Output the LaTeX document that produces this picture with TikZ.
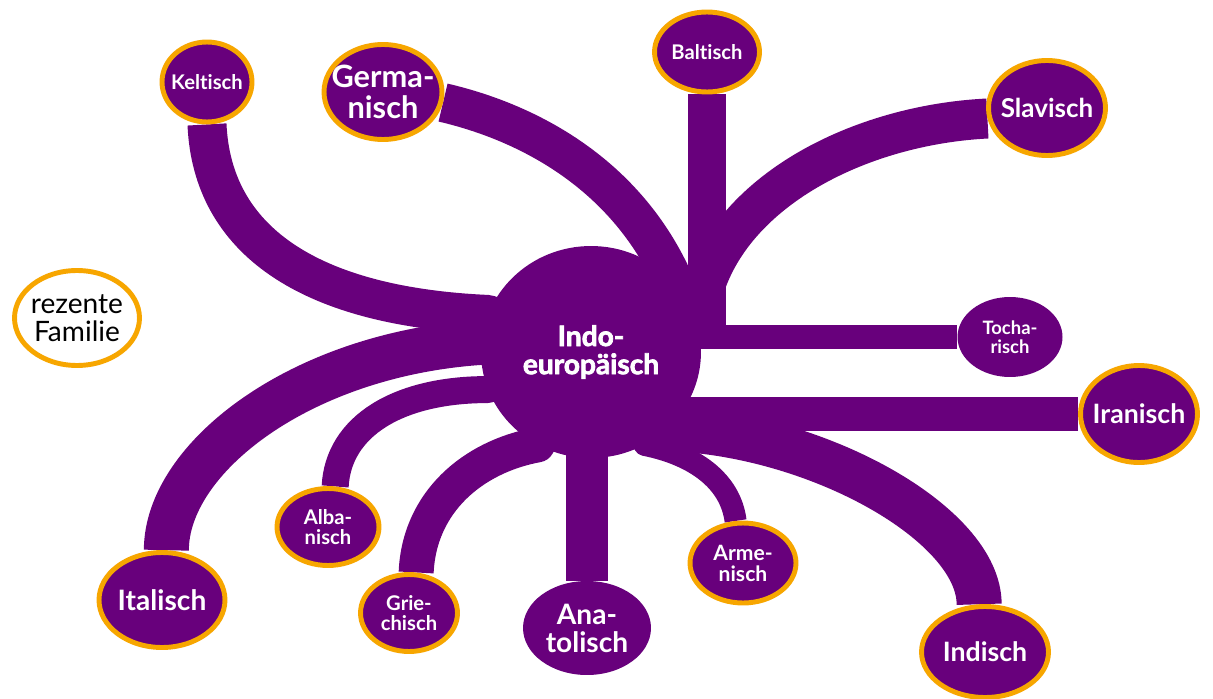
\documentclass[tikz,border=0pt]{standalone}
\usepackage{fontspec}
\setmainfont{Lato}[Ligatures={CommonOff}]
\newfontfamily\heavyfont{Lato}[Ligatures={CommonOff}, BoldFeatures={FakeBold=2.5}]
\usepackage{tikz}
\usetikzlibrary{shapes.geometric, backgrounds}
\definecolor{iepurple}{RGB}{104,0,124}
\definecolor{ieorange}{RGB}{247,166,0}

\begin{document}
\begin{tikzpicture}[
    x=0.02cm, y=-0.02cm,
    lang/.style={ellipse, draw=ieorange, line width=2.8pt, fill=iepurple, inner sep=0pt},
    extinct/.style={ellipse, fill=iepurple, inner sep=0pt},
    recent/.style={ellipse, draw=ieorange, line width=2.8pt, fill=white, inner sep=0pt},
    langtxt/.style={text=white, font=\bfseries\fontsize{#1}{#1}\selectfont, align=center, inner sep=0pt},
    branch/.style={draw=iepurple, line width=#1, line join=round}
]
\useasboundingbox (0,0) rectangle (1213,699);

% Root
\node[extinct, minimum width=4.4cm, minimum height=4.24cm] (ie) at (591,352) {};
\node[langtxt=16pt, font=\heavyfont\bfseries\fontsize{16pt}{16pt}\selectfont] (ie-t) at (ie) {Indo-\\europäisch};

% Daughter families (top, clockwise)
\node[lang, minimum width=1.80cm, minimum height=1.60cm] (kel) at (207,82) {};
\node[lang, minimum width=2.36cm, minimum height=1.90cm] (ger) at (383,92) {};
\node[lang, minimum width=2.10cm, minimum height=1.60cm] (bal) at (707,52) {};
\node[lang, minimum width=2.34cm, minimum height=1.90cm] (sla) at (1047,108) {};
\node[extinct, minimum width=2.10cm, minimum height=1.60cm] (toc) at (1010,337) {};
\node[lang, minimum width=2.34cm, minimum height=1.94cm] (ira) at (1139,414) {};
\node[lang, minimum width=2.54cm, minimum height=1.82cm] (ind) at (985,652) {};
\node[lang, minimum width=2.12cm, minimum height=1.60cm] (arm) at (743,563) {};
\node[extinct, minimum width=2.56cm, minimum height=1.88cm] (ana) at (587,628) {};
\node[lang, minimum width=1.94cm, minimum height=1.54cm] (gri) at (409,613) {};
\node[lang, minimum width=2.04cm, minimum height=1.54cm] (alb) at (328,527) {};
\node[lang, minimum width=2.52cm, minimum height=1.90cm] (ita) at (162,600) {};

% Legend
\node[recent, minimum width=2.50cm, minimum height=1.90cm] (rez) at (77,318) {};
\node[font=\fontsize{16pt}{16pt}\selectfont, align=center, inner sep=0pt] (rez-t) at (rez) {rezente\\Familie};

% Labels
\node[langtxt=11.5pt] (kel-t) at (kel) {Keltisch};
\node[langtxt=17.5pt] (ger-t) at (ger) {Germa-\\nisch};
\node[langtxt=11.5pt] (bal-t) at (bal) {Baltisch};
\node[langtxt=14.8pt] (sla-t) at (sla) {Slavisch};
\node[langtxt=10.5pt] (toc-t) at (toc) {Tocha-\\risch};
\node[langtxt=15.2pt] (ira-t) at (ira) {Iranisch};
\node[langtxt=15.2pt] (ind-t) at (ind) {Indisch};
\node[langtxt=12pt] (arm-t) at (arm) {Arme-\\nisch};
\node[langtxt=16pt] (ana-t) at (ana) {Ana-\\tolisch};
\node[langtxt=11.5pt] (gri-t) at (gri) {Grie-\\chisch};
\node[langtxt=11.5pt] (alb-t) at (alb) {Alba-\\nisch};
\node[langtxt=16pt] (ita-t) at (ita) {Italisch};

% Branches
\begin{scope}[on background layer]
\fill[white] (0,0) rectangle (1213,699);
\draw[branch=0.78cm] (kel.south) .. controls +(5,115) and +(-180,-8) .. (ie.160) -- (ie.center);
\draw[branch=0.78cm] (ger.-10) .. controls +(86,20) and +(-48,-108) .. (ie.40) -- (ie.center);
\draw[branch=0.76cm] (bal.south) -- (bal.south |- toc.west);
\draw[branch=0.80cm] (sla.190) .. controls +(-140,7) and +(10,-120) .. (ie.15) -- (ie.center);
\draw[branch=0.50cm] (toc.west) -- (toc.west -| ie.center);
\draw[branch=0.68cm] (ira.west) -- (ira.west -| ie.center);
\draw[branch=0.90cm] (ind.97) .. controls +(0,-80) and +(150,5) .. (ie.-45) -- (ie.center);
\draw[branch=0.44cm] (arm.100) .. controls +(-5,-40) and +(50,10) .. (ie.-60) -- (ie.center);
\draw[branch=0.84cm] (ana.north) -- (ana.north |- ie.center);
\draw[branch=0.70cm] (gri.80) .. controls +(3,-70) and +(-65,12) .. (ie.-120) -- (ie.center);
\draw[branch=0.54cm] (alb.80) .. controls +(3,-60) and +(-90,0) .. (ie.-160) -- (ie.center);
\draw[branch=0.90cm] (ita.85) .. controls +(0,-92) and +(-181,12) .. (ie.175) -- (ie.center);
\end{scope}

\end{tikzpicture}
\end{document}
